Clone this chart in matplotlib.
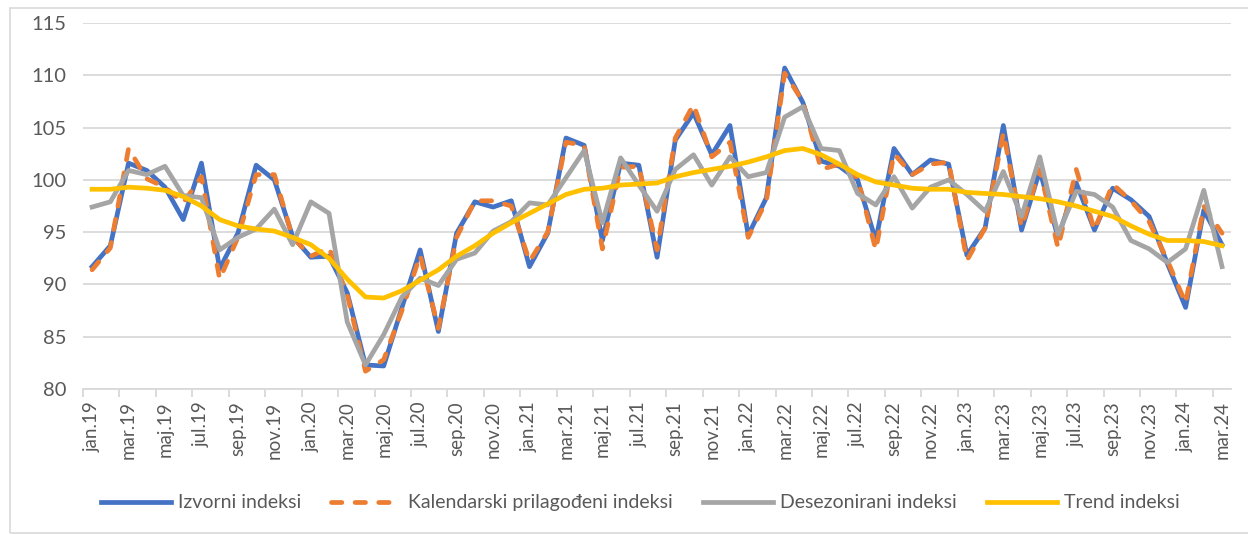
import matplotlib.pyplot as plt
import matplotlib.patches as mpatches
import numpy as np

plt.rcParams['font.family'] = ['Lato', 'DejaVu Sans']

# Mjeseci jan.19 - mar.24
mjeseci = ['jan', 'feb', 'mar', 'apr', 'maj', 'jun', 'jul', 'avg', 'sep', 'okt', 'nov', 'dec']
oznake = [f'{m}.{g}' for g in range(19, 25) for m in mjeseci][:63]

izvorni = [91.7, 93.7, 101.6, 100.9, 99.3, 96.2, 101.6, 91.5, 94.9, 101.4, 100.0, 94.6,
           92.6, 92.7, 89.2, 82.3, 82.2, 87.8, 93.3, 85.5, 94.9, 97.9, 97.4, 98.0,
           91.7, 94.9, 104.0, 103.3, 94.2, 101.6, 101.4, 92.6, 103.8, 106.4, 102.4, 105.2,
           94.7, 98.3, 110.7, 107.4, 101.8, 101.3, 100.0, 94.2, 103.0, 100.5, 101.9, 101.5,
           92.8, 95.4, 105.2, 95.2, 100.9, 94.5, 99.7, 95.2, 99.2, 98.1, 96.5, 92.0,
           87.8, 97.1, 93.8]
kalendarski = [91.4, 93.5, 103.0, 100.1, 99.3, 97.8, 100.3, 90.5, 94.5, 100.5, 100.5, 94.5,
               92.7, 93.5, 89.0, 81.7, 82.8, 87.5, 92.8, 85.8, 94.5, 98.0, 98.0, 97.5,
               92.2, 95.0, 103.6, 103.3, 93.4, 101.2, 101.3, 93.3, 104.0, 107.2, 102.2, 103.6,
               94.5, 98.0, 110.2, 107.5, 101.0, 101.5, 100.2, 93.3, 102.5, 100.5, 101.5, 101.7,
               92.3, 95.4, 104.5, 95.5, 101.0, 93.5, 101.0, 95.2, 99.6, 98.0, 96.0, 92.3,
               88.2, 97.5, 94.9]
desezonirani = [97.4, 97.9, 100.9, 100.5, 101.3, 98.5, 98.3, 93.3, 94.5, 95.3, 97.2, 93.8,
                97.9, 96.8, 86.4, 82.3, 85.2, 88.8, 90.6, 89.9, 92.4, 93.0, 95.1, 96.0,
                97.8, 97.6, 100.2, 102.8, 95.9, 102.1, 99.5, 97.0, 101.0, 102.4, 99.5, 102.2,
                100.3, 100.7, 106.0, 107.0, 103.0, 102.8, 98.7, 97.6, 100.3, 97.3, 99.3, 100.0,
                98.6, 97.0, 100.8, 96.5, 102.2, 94.8, 98.9, 98.6, 97.4, 94.2, 93.4, 92.1,
                93.4, 99.0, 91.7]
trend = [99.1, 99.1, 99.3, 99.2, 99.0, 98.4, 97.5, 96.2, 95.6, 95.3, 95.1, 94.5,
         93.8, 92.5, 90.5, 88.8, 88.7, 89.4, 90.4, 91.4, 92.7, 93.7, 94.9, 95.9,
         96.8, 97.7, 98.6, 99.1, 99.2, 99.5, 99.6, 99.7, 100.3, 100.7, 101.0, 101.3,
         101.7, 102.2, 102.8, 103.0, 102.4, 101.5, 100.5, 99.8, 99.5, 99.2, 99.1, 99.1,
         98.8, 98.7, 98.6, 98.4, 98.2, 97.9, 97.5, 97.0, 96.5, 95.6, 94.8, 94.2,
         94.2, 94.1, 93.7]

x = np.arange(len(oznake))

fig = plt.figure(figsize=(12.48, 5.35), dpi=100)
ax = fig.add_axes([0.0665, 0.2729, 0.92, 0.6841])

# okvir grafikona
fig.patches.append(mpatches.Rectangle((10 / 1248, 2 / 535), 1.0, 525 / 535, transform=fig.transFigure,
                                      fill=False, edgecolor='#D9D9D9', linewidth=1.2))

lw = 3.4
ax.plot(x, izvorni, color='#4472C4', linewidth=lw, label='Izvorni indeksi', solid_joinstyle='round')
ax.plot(x, kalendarski, color='#ED7D31', linewidth=lw, linestyle=(0, (2.2, 2.8)),
        dash_capstyle='round', label='Kalendarski prilagođeni indeksi')
ax.plot(x, desezonirani, color='#A5A5A5', linewidth=lw, label='Desezonirani indeksi', solid_joinstyle='round')
ax.plot(x, trend, color='#FFC000', linewidth=lw, label='Trend indeksi', solid_joinstyle='round')

ax.set_xlim(-0.5, len(x) - 0.5)
ax.set_ylim(80, 115)
ax.set_yticks(np.arange(80, 116, 5))
ax.grid(axis='y', color='#D9D9D9', linewidth=1.3)
ax.set_axisbelow(True)

ax.set_xticks(x[::2])
ax.set_xticklabels(oznake[::2], rotation=90)
ax.set_xticks(np.arange(-0.5, len(x), 2), minor=True)
ax.tick_params(axis='x', which='major', length=0, pad=9, labelsize=13.5, labelcolor='#595959')
ax.tick_params(axis='x', which='minor', length=6, color='#D9D9D9', width=1.3)
ax.tick_params(axis='y', length=0, pad=12, labelsize=14.5, labelcolor='#595959')

for s in ['top', 'right', 'left']:
    ax.spines[s].set_visible(False)
ax.spines['bottom'].set_color('#D9D9D9')
ax.spines['bottom'].set_linewidth(1.3)

fig.legend(loc='center', bbox_to_anchor=(0.513, 0.06), ncol=4, frameon=False,
           fontsize=14, labelcolor='#595959', handlelength=3.6, columnspacing=1.55, handletextpad=0.35)

fig.savefig('out.png', dpi=100)
